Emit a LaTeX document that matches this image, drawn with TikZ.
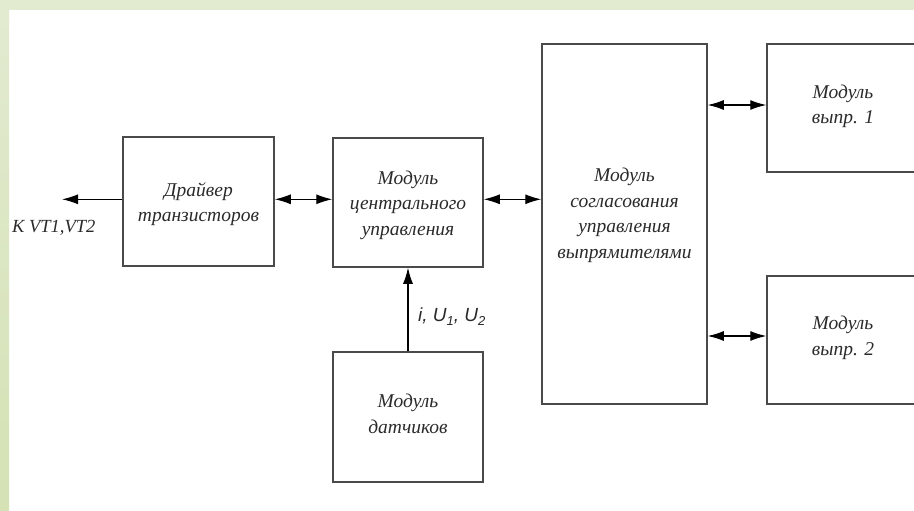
\documentclass[tikz,border=0pt]{standalone}
\usepackage{fontspec}
\setmainfont{Liberation Serif}
\newfontfamily\lsans{Liberation Sans}
\usetikzlibrary{arrows.meta}
\definecolor{bordgreen}{HTML}{E2EAD0}
\definecolor{bordgreenB}{HTML}{D4E2B4}
\definecolor{ink}{HTML}{2A2A2A}
\definecolor{boxline}{HTML}{4A4A4A}
\tikzset{
  blk/.style={draw=boxline, line width=1.5pt, rectangle, inner sep=0pt},
  blktext/.style={align=center, font=\fontsize{19.5}{25.5}\selectfont\itshape, text=ink},
  conn/.style={draw=black, line width=1.2pt},
  tip/.style={-{Latex[length=16pt,width=10pt]}},
  biarr/.style={{Latex[length=16pt,width=10pt]}-{Latex[length=16pt,width=10pt]}}
}
\begin{document}
\begin{tikzpicture}[x=1pt,y=-1pt]
\useasboundingbox (0,0) rectangle (914,511);
\fill[white] (0,0) rectangle (914,511);
\fill[bordgreen] (0,0) rectangle (914,10);
\shade[top color=bordgreen, bottom color=bordgreenB] (0,10) rectangle (9,511);
\begin{scope}
\clip (0,0) rectangle (914,511);
% blocks
\node[blk, minimum width=151pt, minimum height=129pt] (drv) at (198.5,201.5) {};
\node[blk, minimum width=150pt, minimum height=129pt] (cen) at (408,202.5) {};
\node[blk, minimum width=165pt, minimum height=360pt] (sog) at (624.5,224) {};
\node[blk, minimum width=152pt, minimum height=128pt] (m1) at (843,108) {};
\node[blk, minimum width=152pt, minimum height=128pt] (m2) at (843,340) {};
\node[blk, minimum width=150pt, minimum height=130pt] (dat) at (408,417) {};
% texts
\node[blktext] (drvt) at (198.5,204) {Драйвер\\транзисторов};
\node[blktext] (cent) at (408,205) {Модуль\\центрального\\управления};
\node[blktext] (sogt) at (624.5,215.5) {Модуль\\согласования\\управления\\выпрямителями};
\node[blktext] (m1t) at (843,106.5) {Модуль\\выпр. 1};
\node[blktext] (m2t) at (843,338) {Модуль\\выпр. 2};
\node[blktext] (datt) at (408,414) {Модуль\\датчиков};
% connectors
\coordinate (kvt) at (62,199.3);
\draw[conn, tip] (drv.west |- kvt) -- (kvt);
\draw[conn, biarr] (drv.east |- kvt) -- (cen.west |- kvt);
\draw[conn, biarr] (cen.east |- kvt) -- (sog.west |- kvt);
\coordinate (a1) at (767,105);
\draw[conn, biarr] (sog.east |- a1) -- (m1.west |- a1);
\coordinate (a2) at (767,336);
\draw[conn, biarr] (sog.east |- a2) -- (m2.west |- a2);
\draw[conn, tip] (dat.north) -- (cen.south);
% labels
\node[anchor=west, font=\fontsize{18.5}{21}\selectfont\itshape, text=ink, inner sep=0pt] (kvtl) at (12,228) {К VT1,VT2};
\node[anchor=west, font=\lsans\fontsize{19}{22}\selectfont\itshape, text=ink, inner sep=0pt] (sig) at (418,317)
  {i, U\raisebox{-4pt}{\fontsize{13}{13}\selectfont 1}, U\raisebox{-4pt}{\fontsize{13}{13}\selectfont 2}};
\end{scope}
\end{tikzpicture}
\end{document}
